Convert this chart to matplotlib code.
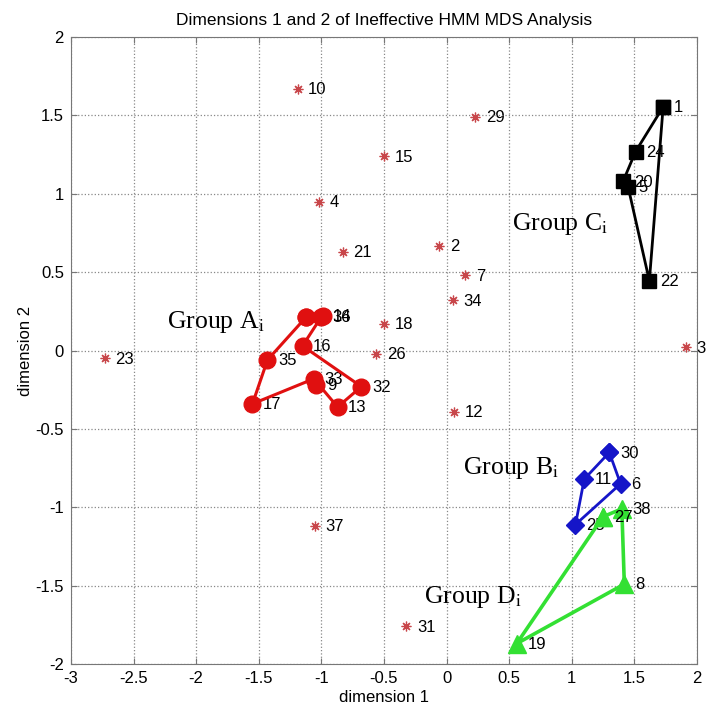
import numpy as np
import matplotlib
matplotlib.use('Agg')
import matplotlib.pyplot as plt

plt.rcParams['font.family'] = 'Liberation Sans'
plt.rcParams['mathtext.fontset'] = 'stix'

# ungrouped points (red stars)
star_ids = ['2', '3', '4', '7', '10', '12', '15', '18', '21', '23', '26', '29', '31', '34', '37']
star_x = [-0.06, 1.91, -1.02, 0.15, -1.19, 0.06, -0.50, -0.50, -0.83, -2.73, -0.56, 0.23, -0.32, 0.05, -1.05]
star_y = [0.67, 0.02, 0.95, 0.48, 1.67, -0.39, 1.24, 0.17, 0.63, -0.05, -0.02, 1.49, -1.76, 0.32, -1.12]

# group A (red circles), drawn in this order and closed
grpA_ids = ['5', '36', '16', '32', '13', '33', '17', '35']
grpA_x = [-1.12, -1.00, -1.15, -0.68, -0.87, -1.06, -1.55, -1.43]
grpA_y = [0.215, 0.215, 0.03, -0.23, -0.36, -0.18, -0.34, -0.06]
grpA_extra_ids = ['14', '9']
grpA_extra_x = [-0.99, -1.04]
grpA_extra_y = [0.22, -0.22]

# group B (blue diamonds)
grpB_ids = ['30', '11', '25', '6']
grpB_x = [1.30, 1.10, 1.03, 1.39]
grpB_y = [-0.65, -0.82, -1.11, -0.85]

# group C (black squares)
grpC_ids = ['1', '24', '20', '5', '22']
grpC_x = [1.73, 1.51, 1.41, 1.45, 1.62]
grpC_y = [1.555, 1.27, 1.08, 1.045, 0.445]

# group D (green triangles)
grpD_ids = ['27', '38', '8', '19']
grpD_x = [1.25, 1.40, 1.42, 0.56]
grpD_y = [-1.06, -1.01, -1.49, -1.87]

group_names = ['Group A$_\\mathrm{i}$', 'Group C$_\\mathrm{i}$', 'Group B$_\\mathrm{i}$', 'Group D$_\\mathrm{i}$']
group_name_x = [-2.23, 0.52, 0.13, -0.18]
group_name_y = [0.145, 0.77, -0.79, -1.61]

fig = plt.figure(figsize=(7.09, 7.14), dpi=100)
ax = fig.add_axes([0.100, 0.070, 0.883, 0.878])


def closed(v):
    return list(v) + [v[0]]


def label_points(ids, xs, ys, z=1.5):
    # labels sit under the markers by default, like the original
    for s, x, y in zip(ids, xs, ys):
        ax.text(x + 0.085, y - 0.005, s, fontsize=12, va='center', ha='left',
                clip_on=False, zorder=z)


# stars
ax.plot(star_x, star_y, linestyle='none', marker=(8, 2, 0), color='#c8464a',
        markersize=7, markeredgewidth=0.9)
label_points(star_ids, star_x, star_y)

# group A
ax.plot(closed(grpA_x), closed(grpA_y), color='#e01010', linewidth=2.2,
        marker='o', markersize=12, markerfacecolor='#e01010', markeredgecolor='#e01010')
ax.plot(grpA_extra_x, grpA_extra_y, linestyle='none', marker='o', markersize=12, color='#e01010')
label_points(grpA_ids, grpA_x, grpA_y)
label_points(grpA_extra_ids, grpA_extra_x, grpA_extra_y)

# group B
ax.plot(closed(grpB_x), closed(grpB_y), color='#1515c8', linewidth=2.0,
        marker='D', markersize=9, markerfacecolor='#1515c8', markeredgecolor='#1515c8')
label_points(grpB_ids, grpB_x, grpB_y)

# group C
ax.plot(closed(grpC_x), closed(grpC_y), color='black', linewidth=2.0,
        marker='s', markersize=10, markerfacecolor='black')
label_points(grpC_ids, grpC_x, grpC_y)

# group D
ax.plot(closed(grpD_x), closed(grpD_y), color='#33e033', linewidth=2.6,
        marker='^', markersize=13, markerfacecolor='#33e033', markeredgecolor='#33e033')
label_points(grpD_ids, grpD_x, grpD_y, z=3)

# group names
for s, x, y in zip(group_names, group_name_x, group_name_y):
    ax.text(x, y, s, fontsize=18.5, family='Liberation Serif', va='baseline', ha='left')

ax.set_xlim(-3, 2)
ax.set_ylim(-2, 2)
ax.set_xticks(np.arange(-3, 2.01, 0.5))
ax.set_yticks(np.arange(-2, 2.01, 0.5))
ax.set_xticklabels(['-3', '-2.5', '-2', '-1.5', '-1', '-0.5', '0', '0.5', '1', '1.5', '2'])
ax.set_yticklabels(['-2', '-1.5', '-1', '-0.5', '0', '0.5', '1', '1.5', '2'])
ax.tick_params(direction='in', top=True, right=True, labelsize=12, length=4, color='#777777', pad=5)
ax.grid(True, linestyle=':', color='#888888', linewidth=0.9)
for sp in ax.spines.values():
    sp.set_color('#777777')

ax.set_xlabel('dimension 1', fontsize=12, labelpad=3)
ax.set_ylabel('dimension 2', fontsize=12, labelpad=2)
ax.set_title('Dimensions 1 and 2 of Ineffective HMM MDS Analysis', fontsize=12.5, pad=9)

plt.savefig('out.png', dpi=100)
